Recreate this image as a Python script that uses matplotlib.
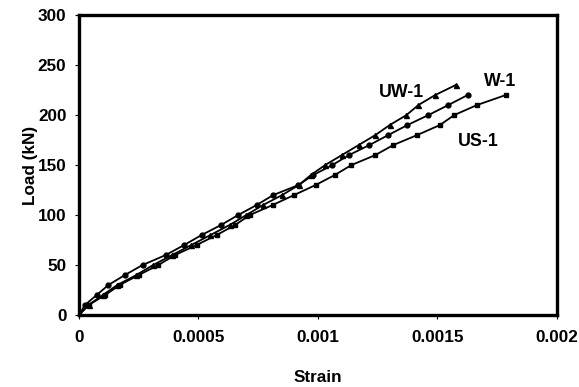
import matplotlib
matplotlib.use("Agg")
import matplotlib.pyplot as plt

plt.rcParams['font.family'] = ['Liberation Sans', 'DejaVu Sans']
plt.rcParams['font.weight'] = 'bold'

# Load steps (kN) and measured strains for each specimen
load_w1 = [0, 10, 20, 30, 40, 50, 60, 70, 80, 90, 100, 110, 120, 130, 140,
           150, 160, 170, 180, 190, 200, 210, 220]
strain_w1 = [0, 0.000025, 0.000074, 0.000123, 0.000192, 0.000266, 0.000363,
             0.00044, 0.000513, 0.000594, 0.000666, 0.000743, 0.000813,
             0.000918, 0.00098, 0.00106, 0.00113, 0.001215, 0.001294,
             0.001374, 0.001462, 0.001545, 0.001626]

load_uw1 = [0, 10, 20, 30, 40, 50, 60, 70, 80, 90, 100, 110, 120, 130, 140,
            150, 160, 170, 180, 190, 200, 210, 220, 230]
strain_uw1 = [0, 0.00004, 0.0001, 0.00016, 0.00024, 0.00031, 0.00039,
              0.00047, 0.00055, 0.00063, 0.0007, 0.00077, 0.00085, 0.00092,
              0.00097, 0.00103, 0.0011, 0.00117, 0.00124, 0.0013, 0.00137,
              0.00142, 0.00149, 0.001576]

load_us1 = [0, 10, 20, 30, 40, 50, 60, 70, 80, 90, 100, 110, 120, 130, 140,
            150, 160, 170, 180, 190, 200, 210, 220]
strain_us1 = [0, 0.00004, 0.00011, 0.00017, 0.00025, 0.000332, 0.000402,
              0.000492, 0.000576, 0.000653, 0.000715, 0.00081, 0.0009,
              0.00099, 0.00107, 0.00114, 0.00124, 0.001315, 0.001415,
              0.00151, 0.00157, 0.001665, 0.001785]

x_ticks = [0, 0.0005, 0.001, 0.0015, 0.002]
x_tick_labels = ['0', '0.0005', '0.001', '0.0015', '0.002']
y_ticks = [0, 50, 100, 150, 200, 250, 300]

fig = plt.figure(figsize=(5.79, 3.87), dpi=100)
ax = fig.add_axes([0.1364, 0.186, 0.962 - 0.1364, 0.961 - 0.186])

line_kw = dict(color='black', linewidth=1.3, markeredgecolor='black',
               markerfacecolor='black')
ax.plot(strain_w1, load_w1, marker='o', markersize=3.5, **line_kw)
ax.plot(strain_uw1, load_uw1, marker='^', markersize=3.6, **line_kw)
ax.plot(strain_us1, load_us1, marker='s', markersize=3.0, **line_kw)

ax.set_xlim(0, 0.002)
ax.set_ylim(0, 300)
ax.set_xticks(x_ticks)
ax.set_xticklabels(x_tick_labels)
ax.set_yticks(y_ticks)

for s in ax.spines.values():
    s.set_linewidth(2.4)
    s.set_color('black')

ax.tick_params(axis='both', direction='out', length=3, width=0.8,
               labelsize=12.3, colors='black')
ax.tick_params(axis='x', pad=8)
ax.tick_params(axis='y', pad=6)

ax.set_xlabel('Strain', fontsize=12.3, fontweight='bold', labelpad=18)
ax.set_ylabel('Load (kN)', fontsize=12.3, fontweight='bold', labelpad=0)

# Series labels placed next to their curves
ax.text(0.00135, 223, 'UW-1', fontsize=12.8, fontweight='bold',
        ha='center', va='center')
ax.text(0.00176, 234, 'W-1', fontsize=12.8, fontweight='bold',
        ha='center', va='center')
ax.text(0.00167, 174, 'US-1', fontsize=12.8, fontweight='bold',
        ha='center', va='center')

fig.savefig('out.png', dpi=100)
